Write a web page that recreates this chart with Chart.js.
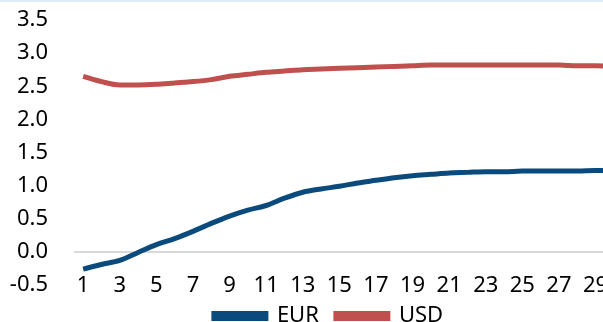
<!DOCTYPE html>
<html>
<head>
<meta charset="utf-8">
<script src="https://cdn.jsdelivr.net/npm/chart.js@4"></script>
<style>
  html, body { margin: 0; padding: 0; background: #fff; overflow: hidden; }
  #wrap { width: 652px; height: 320px; border-top: 2px solid #deebf7; }
</style>
</head>
<body>
<div id="wrap"><canvas id="curve"></canvas></div>
<script>
const days = [];
for (let i = 1; i <= 30; i++) days.push(String(i));

const eur = [-0.26, -0.19, -0.13, -0.01, 0.11, 0.20, 0.31, 0.43, 0.54, 0.63,
             0.70, 0.81, 0.90, 0.95, 0.99, 1.04, 1.08, 1.12, 1.15, 1.17,
             1.19, 1.20, 1.21, 1.21, 1.22, 1.22, 1.22, 1.22, 1.23, 1.23];
const usd = [2.65, 2.57, 2.52, 2.52, 2.53, 2.55, 2.57, 2.60, 2.65, 2.68,
             2.71, 2.73, 2.75, 2.76, 2.77, 2.78, 2.79, 2.80, 2.81, 2.82,
             2.82, 2.82, 2.82, 2.82, 2.82, 2.82, 2.82, 2.81, 2.81, 2.80];

const font = { family: 'Noto Sans', size: 22, lineHeight: 1 };

// labels of both axes run a little outside their own boxes, like in the excel chart
function noClip(s) { s._computeLabelArea = function () { return undefined; }; }

const ctx = document.getElementById('curve').getContext('2d');
const myChart = new Chart(ctx, {
    type: 'line',
    data: {
        labels: days,
        datasets: [{
            label: 'EUR',
            data: eur,
            borderColor: '#0b4a7d',
            backgroundColor: '#0b4a7d',
            borderWidth: 5,
            pointRadius: 0,
            cubicInterpolationMode: 'monotone'
        }, {
            label: 'USD',
            data: usd,
            borderColor: '#c0504d',
            backgroundColor: '#c0504d',
            borderWidth: 5,
            pointRadius: 0,
            cubicInterpolationMode: 'monotone'
        }]
    },
    options: {
        responsive: true,
        maintainAspectRatio: false,
        animation: false,
        layout: { padding: { top: 18, right: 29, bottom: -15, left: 34 } },
        plugins: {
            tooltip: { enabled: false },
            legend: {
                position: 'bottom',
                labels: {
                    font: font,
                    color: '#000',
                    boxWidth: 52,
                    boxHeight: 5,
                    padding: 17
                }
            }
        },
        scales: {
            x: {
                offset: true,
                grid: { display: false, drawTicks: false },
                border: { display: false },
                afterFit: function (s) { s.height = 3; noClip(s); },
                ticks: {
                    font: font,
                    color: '#000',
                    autoSkip: false,
                    maxRotation: 0,
                    padding: -10,
                    callback: function (v, i) { return i % 2 === 0 ? days[i] : ''; }
                }
            },
            y: {
                min: -0.5,
                max: 3.5,
                border: { display: false },
                afterFit: function (s) { s.width = 40; s.paddingTop = 0; s.paddingBottom = 0; noClip(s); },
                grid: {
                    drawTicks: false,
                    color: function (c) { return c.tick && c.tick.value === 0 ? '#d9d9d9' : 'rgba(0,0,0,0)'; },
                    lineWidth: 2
                },
                ticks: {
                    font: font,
                    color: '#000',
                    stepSize: 0.5,
                    padding: 26,
                    callback: function (v) { return v.toFixed(1); }
                }
            }
        }
    }
});
</script>
</body>
</html>
